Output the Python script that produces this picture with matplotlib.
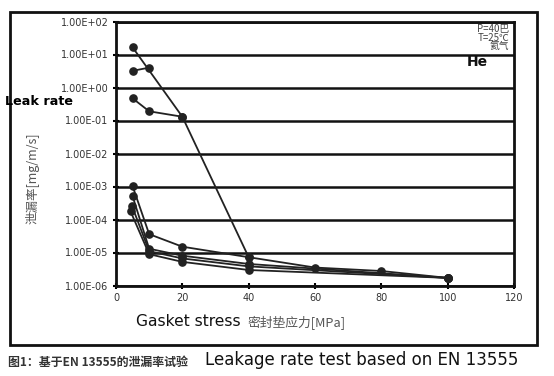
import matplotlib
matplotlib.use('Agg')
import matplotlib.pyplot as plt
from matplotlib.patches import Rectangle
from matplotlib.ticker import FuncFormatter, NullLocator

# gasket stress [MPa] and leak rate [mg/m/s]
xa = [5, 20, 40]
ya = [16.5, 0.13, 7.2e-6]
xb = [5, 10]
yb = [3.2, 4.0]
xc = [5, 10, 20]
yc = [0.47, 0.19, 0.13]
x1 = [5, 10, 20, 40, 60, 80, 100]
y1 = [1.03e-3, 3.6e-5, 1.5e-5, 7.2e-6, 3.5e-6, 2.75e-6, 1.7e-6]
x2 = [5, 10, 20, 40, 100]
y2 = [5.1e-4, 1.3e-5, 8.0e-6, 4.5e-6, 1.7e-6]
x3 = [4.8, 10, 20, 40, 100]
y3 = [2.6e-4, 1.1e-5, 6.6e-6, 3.8e-6, 1.7e-6]
x4 = [4.4, 10, 20, 40, 100]
y4 = [1.75e-4, 8.9e-6, 5.2e-6, 2.95e-6, 1.7e-6]

xticks = [0, 20, 40, 60, 80, 100, 120]
yticks = [1e-6, 1e-5, 1e-4, 1e-3, 1e-2, 1e-1, 1e0, 1e1, 1e2]

cjk = ['Noto Sans CJK SC', 'DejaVu Sans']

fig = plt.figure(figsize=(5.54, 3.76), dpi=100)
ax = fig.add_axes([116/554, 1-285.5/376, 398/554, 264/376])

for xs, ys in [(xa, ya), (xb, yb), (xc, yc), (x1, y1), (x2, y2), (x3, y3), (x4, y4)]:
    ax.plot(xs, ys, color='#222222', lw=1.3, marker='o', ms=5.2, zorder=3)

ax.set_yscale('log')
ax.set_ylim(1e-6, 1e2)
ax.set_xlim(0, 120)
ax.set_xticks(xticks)
ax.set_yticks(yticks)
ax.yaxis.set_minor_locator(NullLocator())
ax.yaxis.set_major_formatter(FuncFormatter(lambda v, p: '%.2E' % v))
ax.tick_params(axis='both', direction='inout', length=5, width=1.5,
               labelsize=7, labelcolor='#333333', pad=3)
for s in ax.spines.values():
    s.set_linewidth(2)
    s.set_color('#111111')
ax.grid(axis='y', color='#111111', lw=1.8)
ax.set_axisbelow(True)

# y label sits lower than the axes centre in the original
fig.text(33/554, 1-178/376, '泄漏率[mg/m/s]', family=cjk, fontsize=9, color='#555555',
         rotation=90, ha='center', va='center')

# conditions in the top right corner
ax.text(0.988, 0.99, 'P=40巴\nT=25℃\n氦气', transform=ax.transAxes, ha='right', va='top',
        family=cjk, fontsize=7, style='italic', color='#444444', linespacing=0.8)
ax.text(0.907, 0.847, 'He', transform=ax.transAxes, ha='center', va='center',
        fontsize=10, fontweight='bold', color='#111111')

fig.text(5/554, 1-102/376, 'Leak rate', fontsize=9.2, fontweight='bold', va='center', ha='left')
fig.text(136/554, 1-322/376, 'Gasket stress', fontsize=11.2, va='center', ha='left', color='#111111')
fig.text(247/554, 1-323/376, '密封垫应力[MPa]', family=cjk, fontsize=9.2, va='center', ha='left', color='#555555')
fig.text(8/554, 1-362/376, '图1：基于EN 13555的泄漏率试验', family=cjk, fontsize=8.6, fontweight='bold',
         va='center', ha='left', color='#333333')
fig.text(205/554, 1-360/376, 'Leakage rate test based on EN 13555', fontsize=12, va='center', ha='left',
         color='#111111')

# outer frame
fig.patches.append(Rectangle((10/554, 1-345/376), 527/554, 333/376, transform=fig.transFigure,
                             fill=False, lw=2, edgecolor='#111111'))

fig.savefig('out.png', dpi=100)
